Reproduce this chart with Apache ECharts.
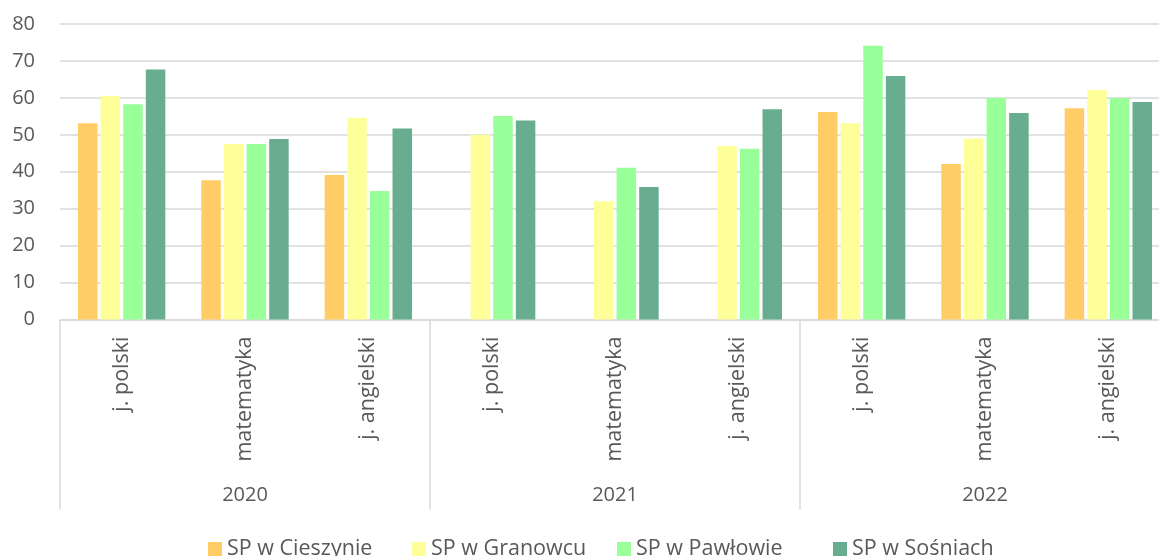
<!DOCTYPE html>
<html>
<head>
<meta charset="utf-8">
<script src="https://cdn.jsdelivr.net/npm/echarts@6/dist/echarts.min.js"></script>
<style>
html,body{margin:0;padding:0;background:#fff;overflow:hidden;}
#chart{width:1170px;height:556px;}
</style>
</head>
<body>
<div id="chart"></div>
<script>
const categories = ['j. polski','matematyka','j. angielski','j. polski','matematyka','j. angielski','j. polski','matematyka','j. angielski'];
const years = ['2020','2021','2022'];
const seriesNames = ['SP w Cieszynie','SP w Granowcu','SP w Pawłowie','SP w Sośniach'];
const cieszynie = [53.1, 37.7, 39.1, null, null, null, 56.2, 42.1, 57.2];
const granowcu  = [60.5, 47.5, 54.6, 50.0, 32.0, 47.0, 53.1, 49.0, 62.1];
const pawlowie  = [58.3, 47.5, 34.8, 55.1, 41.1, 46.2, 74.1, 60.0, 60.0];
const sosniach  = [67.7, 48.9, 51.7, 53.9, 35.9, 56.9, 65.9, 55.9, 58.9];
const colors = ['#FFCC66','#FFFF99','#99FF99','#69AD90'];
const legendLefts = [203, 407, 612, 828];

const FONT = 'Open Sans';
const seriesData = [cieszynie, granowcu, pawlowie, sosniach];
const chart = echarts.init(document.getElementById('chart'), null, {renderer:'canvas'});
chart.setOption({
  animation:false,
  textStyle:{fontFamily:FONT},
  grid:{left:60, right:0, top:24, height:295.5, containLabel:false},
  legend: seriesNames.map((n,i)=>({
    data:[n], left:legendLefts[i], top:533, icon:'rect', itemWidth:14, itemHeight:14,
    textStyle:{fontFamily:FONT, fontSize:21.5, color:'#595959'}
  })),
  xAxis:[
    {type:'category', data:categories, position:'bottom',
     axisLine:{show:true, lineStyle:{color:'#d9d9d9', width:1.5}},
     axisTick:{show:false},
     axisLabel:{rotate:90, interval:0, margin:17, fontFamily:FONT, fontSize:21.5, color:'#595959'}
    },
    {type:'category', data:years, position:'bottom', gridIndex:0,
     axisLine:{show:false},
     axisTick:{show:true, interval:0, length:190, lineStyle:{color:'#d9d9d9', width:1.5}},
     axisLabel:{interval:0, margin:166, fontFamily:FONT, fontSize:20, color:'#595959'}
    }
  ],
  yAxis:{type:'value', min:0, max:80, interval:10,
    axisLine:{show:false}, axisTick:{show:false},
    splitLine:{lineStyle:{color:'#d9d9d9', width:1.5}},
    axisLabel:{margin:25, fontFamily:FONT, fontSize:20, color:'#595959'}
  },
  series: seriesNames.map((n,i)=>({
    name:n, type:'bar', xAxisIndex:0, data:seriesData[i],
    barWidth:19.5, barGap:'16%',
    itemStyle:{color:colors[i]}
  }))
});
</script>
</body>
</html>
